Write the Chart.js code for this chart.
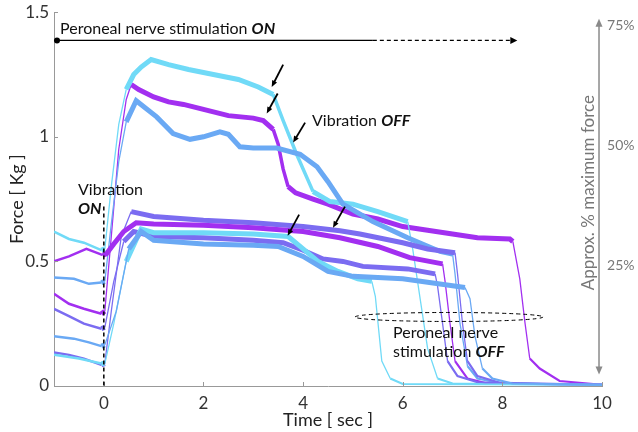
<!DOCTYPE html>
<html>
<head>
<meta charset="utf-8">
<script src="https://cdn.jsdelivr.net/npm/chart.js@4.4.1/dist/chart.umd.min.js"></script>
<style>
  body { margin: 0; background: #fff; }
  canvas { display: block; }
</style>
</head>
<body>
<canvas id="myChart" width="638" height="432"></canvas>
<script>
// force traces (time in s, force in kg)
// upper group: the three trials that climb above 1 kg
const ucTime  = [-1, -0.7, -0.4, -0.05, 0.02, 0.15, 0.3, 0.45, 0.6, 0.75, 0.95, 1.3, 1.7, 2.2, 2.7, 3.1, 3.4, 3.6, 3.87, 4.2, 4.54, 5.0, 5.5, 6.1, 6.2, 6.35, 6.5, 6.7, 7.0, 10];
const ucForce = [0.62, 0.59, 0.575, 0.545, 0.55, 0.8, 1.05, 1.19, 1.25, 1.28, 1.31, 1.29, 1.27, 1.25, 1.23, 1.2, 1.17, 1.065, 0.93, 0.78, 0.74, 0.73, 0.70, 0.66, 0.55, 0.35, 0.15, 0.03, 0.01, 0.005];

const upTime  = [-1, -0.7, -0.4, -0.05, 0.02, 0.15, 0.3, 0.45, 0.55, 0.7, 1.0, 1.3, 1.6, 2.0, 2.5, 3.0, 3.2, 3.4, 3.5, 3.6, 3.7, 3.85, 4.2, 4.5, 5.0, 5.5, 6.0, 6.5, 7.0, 7.5, 8.15, 8.21, 8.35, 8.45, 8.55, 8.75, 9.15, 10];
const upForce = [0.37, 0.33, 0.31, 0.29, 0.30, 0.6, 0.95, 1.15, 1.21, 1.19, 1.16, 1.14, 1.13, 1.11, 1.085, 1.075, 1.065, 1.03, 0.97, 0.87, 0.80, 0.775, 0.75, 0.73, 0.69, 0.67, 0.64, 0.625, 0.61, 0.595, 0.59, 0.58, 0.43, 0.26, 0.11, 0.07, 0.02, 0.005];

const ubTime  = [-1, -0.6, -0.3, -0.05, 0.02, 0.15, 0.3, 0.45, 0.65, 1.06, 1.39, 1.73, 2.0, 2.33, 2.5, 2.73, 3.0, 3.47, 3.94, 4.28, 4.5, 4.8, 5.4, 6.1, 6.75, 7.0, 7.05, 7.15, 7.3, 7.5, 8.0, 10];
const ubForce = [0.435, 0.43, 0.41, 0.415, 0.42, 0.65, 0.9, 1.06, 1.145, 1.08, 1.013, 0.99, 1.0, 1.02, 1.01, 0.96, 0.955, 0.955, 0.93, 0.88, 0.82, 0.73, 0.66, 0.595, 0.54, 0.53, 0.45, 0.25, 0.08, 0.03, 0.01, 0.005];

// lower group: the five trials that stay around 0.6 kg
const lv2Time  = [-1, -0.7, -0.4, -0.05, 0.02, 0.15, 0.35, 0.55, 1.0, 2.0, 3.0, 4.0, 4.74, 5.14, 6.0, 6.5, 7.05, 7.1, 7.2, 7.3, 7.5, 8.0, 10];
const lv2Force = [0.135, 0.125, 0.11, 0.085, 0.09, 0.3, 0.6, 0.70, 0.68, 0.665, 0.655, 0.64, 0.623, 0.61, 0.575, 0.55, 0.535, 0.45, 0.25, 0.1, 0.04, 0.01, 0.005];

const lpTime  = [-1, -0.7, -0.35, -0.15, -0.02, 0.05, 0.2, 0.4, 0.65, 1.0, 2.0, 3.0, 4.0, 4.74, 5.5, 6.14, 6.8, 6.85, 6.95, 7.05, 7.3, 7.7, 10];
const lpForce = [0.50, 0.52, 0.55, 0.535, 0.525, 0.53, 0.57, 0.62, 0.655, 0.65, 0.645, 0.635, 0.62, 0.595, 0.56, 0.515, 0.49, 0.42, 0.25, 0.1, 0.03, 0.01, 0.005];

const lcTime  = [-1, -0.5, -0.05, 0.02, 0.2, 0.45, 0.75, 1.0, 2.0, 3.0, 3.7, 4.0, 4.3, 4.7, 5.1, 5.38, 5.45, 5.58, 5.75, 6.0, 10];
const lcForce = [0.125, 0.11, 0.09, 0.09, 0.25, 0.5, 0.63, 0.615, 0.615, 0.61, 0.60, 0.55, 0.50, 0.46, 0.43, 0.42, 0.36, 0.10, 0.03, 0.008, 0.005];

const lvTime  = [-1, -0.7, -0.4, -0.05, 0.02, 0.2, 0.4, 0.6, 1.0, 2.0, 3.0, 3.6, 4.0, 4.4, 4.8, 5.2, 6.1, 6.65, 6.7, 6.8, 6.9, 7.1, 7.5, 10];
const lvForce = [0.31, 0.28, 0.25, 0.23, 0.235, 0.42, 0.58, 0.62, 0.60, 0.595, 0.585, 0.575, 0.545, 0.51, 0.50, 0.48, 0.47, 0.45, 0.4, 0.25, 0.1, 0.04, 0.015, 0.005];

const lbTime  = [-1, -0.6, -0.3, -0.05, 0.02, 0.25, 0.5, 0.75, 1.0, 2.0, 3.0, 3.5, 4.0, 4.5, 5.0, 6.0, 7.25, 7.35, 7.45, 7.6, 7.8, 8.2, 10];
const lbForce = [0.20, 0.19, 0.175, 0.16, 0.165, 0.3, 0.55, 0.62, 0.585, 0.57, 0.565, 0.56, 0.52, 0.46, 0.44, 0.43, 0.395, 0.35, 0.2, 0.07, 0.03, 0.01, 0.005];

const xTicks = [0, 2, 4, 6, 8, 10];
const yTicks = [0, 0.5, 1, 1.5];
const pctTicks = [25, 50, 75];
const kgPerPct = 0.0193;

const cyan = '#70daf7', purple = '#a22ff0', blue = '#6aa9f4', violet = '#7b6cf1';
const fam = "Lato, 'Open Sans', sans-serif";

function pts(t, f) {
  return t.map((v, i) => ({ x: v, y: f[i] }));
}

// thin where the trace is steep, medium before stimulation, thick on plateaus
function segWidth(c) {
  const a = c.p0, b = c.p1;
  const x0 = a.parsed.x, x1 = b.parsed.x;
  if (x1 <= 0) return 2.5;
  const slope = Math.abs((b.y - a.y) / (b.x - a.x));
  if (x0 >= 5) {
    if (slope > 2) return 1.3;
    if (Math.max(a.parsed.y, b.parsed.y) < 0.2) return 2.2;
    return 5;
  }
  if (x0 < 1.5) return slope > 2.5 ? 1.3 : 5;
  return slope > 2 ? 3.5 : 5;
}

function trace(t, f, color) {
  return {
    data: pts(t, f),
    borderColor: color,
    borderWidth: 5,
    pointRadius: 0,
    tension: 0,
    segment: { borderWidth: segWidth }
  };
}

function arrow(ctx, x0, y0, x1, y1, head) {
  const ang = Math.atan2(y1 - y0, x1 - x0);
  ctx.beginPath();
  ctx.moveTo(x0, y0);
  ctx.lineTo(x1 - Math.cos(ang) * head * 0.8, y1 - Math.sin(ang) * head * 0.8);
  ctx.stroke();
  ctx.beginPath();
  ctx.moveTo(x1, y1);
  ctx.lineTo(x1 - head * Math.cos(ang - 0.4), y1 - head * Math.sin(ang - 0.4));
  ctx.lineTo(x1 - head * Math.cos(ang + 0.4), y1 - head * Math.sin(ang + 0.4));
  ctx.closePath();
  ctx.fill();
}

function mixed(ctx, x, y, parts) {
  parts.forEach(p => {
    ctx.font = p[1];
    ctx.fillText(p[0], x, y);
    x += ctx.measureText(p[0]).width;
  });
}

const extras = {
  id: 'extras',
  afterDatasetsDraw(chart) {
    const { ctx, scales: { x, y } } = chart;
    ctx.save();

    // inward tick marks
    ctx.strokeStyle = '#999';
    ctx.lineWidth = 1;
    yTicks.forEach(v => {
      const py = Math.round(y.getPixelForValue(v)) + 0.5;
      ctx.beginPath(); ctx.moveTo(x.left, py); ctx.lineTo(x.left + 4, py); ctx.stroke();
    });
    xTicks.forEach(v => {
      const px = Math.round(x.getPixelForValue(v)) + 0.5;
      ctx.beginPath(); ctx.moveTo(px, y.bottom); ctx.lineTo(px, y.bottom - 4); ctx.stroke();
    });

    // vibration onset
    ctx.strokeStyle = '#000';
    ctx.lineWidth = 1.5;
    ctx.setLineDash([4, 3]);
    ctx.beginPath();
    ctx.moveTo(x.getPixelForValue(0), y.getPixelForValue(0.72));
    ctx.lineTo(x.getPixelForValue(0), y.bottom);
    ctx.stroke();

    // stimulation bar
    const by = y.getPixelForValue(1.387);
    ctx.setLineDash([]);
    ctx.lineWidth = 1.3;
    ctx.beginPath();
    ctx.moveTo(x.getPixelForValue(-0.94), by);
    ctx.lineTo(x.getPixelForValue(5.4), by);
    ctx.stroke();
    ctx.setLineDash([4, 3]);
    ctx.beginPath();
    ctx.moveTo(x.getPixelForValue(5.4), by);
    ctx.lineTo(x.getPixelForValue(8.2), by);
    ctx.stroke();
    ctx.setLineDash([]);
    ctx.fillStyle = '#000';
    ctx.beginPath();
    ctx.moveTo(x.getPixelForValue(8.3), by);
    ctx.lineTo(x.getPixelForValue(8.3) - 7, by - 3.5);
    ctx.lineTo(x.getPixelForValue(8.3) - 7, by + 3.5);
    ctx.closePath();
    ctx.fill();
    ctx.beginPath();
    ctx.arc(x.getPixelForValue(-0.94), by, 3, 0, Math.PI * 2);
    ctx.fill();

    // vibration-off arrows
    const arrows = [[3.6, 1.29, 3.37, 1.20], [3.49, 1.174, 3.27, 1.094], [4.04, 1.057, 3.80, 0.977],
                    [4.84, 0.72, 4.60, 0.635], [3.92, 0.688, 3.69, 0.603]];
    ctx.lineWidth = 1.8;
    arrows.forEach(a => arrow(ctx, x.getPixelForValue(a[0]), y.getPixelForValue(a[1]),
                                   x.getPixelForValue(a[2]), y.getPixelForValue(a[3]), 7));

    // stimulation-off ellipse
    ctx.lineWidth = 1;
    ctx.setLineDash([4, 3]);
    ctx.beginPath();
    ctx.ellipse(x.getPixelForValue(6.93), y.getPixelForValue(0.277), 94, 4.5, 0, 0, Math.PI * 2);
    ctx.stroke();
    ctx.setLineDash([]);

    // labels
    ctx.fillStyle = '#111';
    ctx.textBaseline = 'alphabetic';
    ctx.textAlign = 'left';
    const reg = '16px ' + fam, bold = 'italic bold 16px ' + fam;
    mixed(ctx, 60, 34, [['Peroneal nerve stimulation ', reg], ['ON', bold]]);
    mixed(ctx, 312, 126, [['Vibration ', reg], ['OFF', bold]]);
    mixed(ctx, 78, 195, [['Vibration', reg]]);
    mixed(ctx, 78, 214, [['ON', bold]]);
    mixed(ctx, 393, 338, [['Peroneal nerve', reg]]);
    mixed(ctx, 393, 357, [['stimulation ', reg], ['OFF', bold]]);

    // approx. % of maximum force axis
    const ax = x.getPixelForValue(9.94);
    const top = y.getPixelForValue(1.47), bot = y.getPixelForValue(0.05);
    ctx.strokeStyle = '#8a8a8a';
    ctx.fillStyle = '#8a8a8a';
    ctx.lineWidth = 1.5;
    ctx.beginPath(); ctx.moveTo(ax, top + 5); ctx.lineTo(ax, bot - 5); ctx.stroke();
    ctx.beginPath(); ctx.moveTo(ax, top - 1); ctx.lineTo(ax - 3.5, top + 7); ctx.lineTo(ax + 3.5, top + 7); ctx.closePath(); ctx.fill();
    ctx.beginPath(); ctx.moveTo(ax, bot + 1); ctx.lineTo(ax - 3.5, bot - 7); ctx.lineTo(ax + 3.5, bot - 7); ctx.closePath(); ctx.fill();
    ctx.fillStyle = '#777';
    ctx.font = '14px ' + fam;
    ctx.textBaseline = 'middle';
    pctTicks.forEach(p => ctx.fillText(p + '%', ax + 8, y.getPixelForValue(p * kgPerPct)));
    ctx.translate(ax - 10, (top + bot) / 2 - 4);
    ctx.rotate(-Math.PI / 2);
    ctx.textAlign = 'center';
    ctx.font = '17px ' + fam;
    ctx.fillText('Approx. % maximum force', 0, 0);
    ctx.restore();
  }
};

new Chart(document.getElementById('myChart'), {
  type: 'line',
  data: {
    datasets: [
      trace(lbTime, lbForce, blue),
      trace(lcTime, lcForce, cyan),
      trace(lvTime, lvForce, violet),
      trace(lpTime, lpForce, purple),
      trace(lv2Time, lv2Force, violet),
      trace(ubTime, ubForce, blue),
      trace(ucTime, ucForce, cyan),
      trace(upTime, upForce, purple)
    ]
  },
  options: {
    responsive: false,
    animation: false,
    layout: { padding: { top: 6, right: 36, left: 0, bottom: 0 } },
    plugins: { legend: { display: false }, tooltip: { enabled: false } },
    scales: {
      x: {
        type: 'linear',
        min: -1,
        max: 10,
        afterBuildTicks: s => { s.ticks = xTicks.map(v => ({ value: v })); },
        afterFit: s => { s.height = 46; },
        grid: { display: false, drawTicks: false },
        border: { color: '#999' },
        ticks: { color: '#333', font: { family: fam, size: 17 }, padding: 7, callback: v => String(v) },
        title: { display: true, text: 'Time [ sec ]', color: '#222', font: { family: fam, size: 18 }, padding: { top: 0, bottom: 1 } }
      },
      y: {
        min: 0,
        max: 1.5,
        afterBuildTicks: s => { s.ticks = yTicks.map(v => ({ value: v })); },
        afterFit: s => { s.width = 54; },
        grid: { display: false, drawTicks: false },
        border: { color: '#999' },
        ticks: { color: '#333', font: { family: fam, size: 17, lineHeight: 0.85 }, padding: 5, callback: v => String(v) },
        title: { display: true, text: 'Force [ Kg ]', color: '#222', font: { family: fam, size: 18 }, padding: { top: 6, bottom: 0 } }
      }
    }
  },
  plugins: [extras]
});
</script>
</body>
</html>
